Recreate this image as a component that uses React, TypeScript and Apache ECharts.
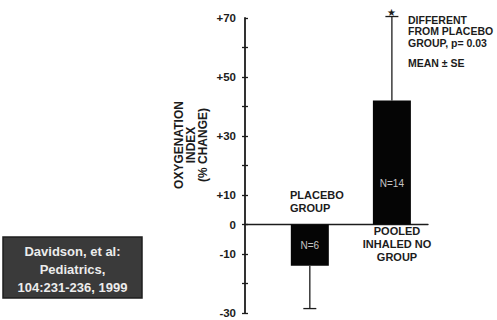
import React, { useEffect, useRef } from "react";
import * as echarts from "echarts";

const groups = ["PLACEBO\nGROUP", "POOLED\nINHALED NO\nGROUP"];
const sampleSizes = [6, 14];
const meanChange = [-14, 42];
const seChange = [14.5, 28.5];
const significant = [false, true];
const yTickLabels = [70, 50, 30, 10, 0, -10, -30];
const yMin = -30;
const yMax = 70;
const yStep = 10;

const FONT = "'Liberation Sans', Arial, Helvetica, sans-serif";
const INK = "#1c1c1c";

export default function App() {
  const ref = useRef<HTMLDivElement>(null);
  useEffect(() => {
    if (!ref.current) return;
    const chart = echarts.init(ref.current, undefined, { renderer: "svg" });
    const allTicks: number[] = [];
    for (let v = yMin; v <= yMax; v += yStep) allTicks.push(v);
    const outerTicks = allTicks.filter((v) => v < yMax);

    const barData = meanChange.map((m, i) => ({
      value: [i, m],
      label: {
        show: true,
        formatter: "N=" + sampleSizes[i],
        position: m < 0 ? "inside" : "insideBottom",
        distance: m < 0 ? 0 : 36,
        color: "#c4c4c4",
        fontSize: 10,
        fontFamily: FONT,
      },
    }));
    const errData = meanChange.map((m, i) => [i, m, m + Math.sign(m) * seChange[i], significant[i] ? 1 : 0]);

    chart.setOption({
      animation: false,
      backgroundColor: "#ffffff",
      grid: { left: 245, top: 18, width: 183, height: 295 },
      xAxis: {
        type: "value",
        min: -0.79,
        max: 1.44,
        axisLine: { show: true, onZero: true, onZeroAxisIndex: 0, lineStyle: { color: INK, width: 1.3 } },
        axisTick: { show: false },
        axisLabel: { show: false },
        splitLine: { show: false },
      },
      yAxis: [
        {
          type: "value",
          min: yMin,
          max: yMax,
          interval: yStep,
          position: "left",
          axisLine: { show: true, onZero: false, lineStyle: { color: INK, width: 1.8 } },
          axisTick: { show: true, length: 3, customValues: outerTicks, lineStyle: { color: INK, width: 1.3 } },
          axisLabel: {
            show: true,
            customValues: yTickLabels,
            formatter: (v: number) => (v > 0 ? "+" + v : String(v)),
            margin: 9,
            color: INK,
            fontSize: 11.5,
            fontWeight: "bold",
            fontFamily: FONT,
          },
          splitLine: { show: false },
        },
        {
          type: "value",
          min: yMin,
          max: yMax,
          interval: yStep,
          position: "left",
          axisLine: { show: false, onZero: false },
          axisTick: { show: true, inside: true, length: 3, lineStyle: { color: INK, width: 1.3 } },
          axisLabel: { show: false },
          splitLine: { show: false },
        },
      ],
      series: [
        {
          type: "bar",
          data: barData,
          barWidth: 38,
          itemStyle: { color: "#050505" },
        },
        {
          type: "custom",
          data: errData,
          renderItem: (params: any, api: any) => {
            const x = api.value(0);
            const p0 = api.coord([x, api.value(1)]);
            const p1 = api.coord([x, api.value(2)]);
            const children: any[] = [
              { type: "line", shape: { x1: p0[0], y1: p0[1], x2: p1[0], y2: p1[1] }, style: { stroke: INK, lineWidth: 1.3 } },
              { type: "line", shape: { x1: p1[0] - 6.5, y1: p1[1], x2: p1[0] + 6.5, y2: p1[1] }, style: { stroke: INK, lineWidth: 1.3 } },
            ];
            if (api.value(3) === 1) {
              children.push({
                type: "text",
                x: p1[0],
                y: p1[1] - 4.5,
                style: { text: "★", fontSize: 10, fill: INK, align: "center", verticalAlign: "middle" },
              });
            }
            return { type: "group", children };
          },
          z: 5,
        },
      ],
      graphic: [
        {
          type: "text",
          x: 191,
          y: 145,
          rotation: Math.PI / 2,
          style: {
            text: "OXYGENATION\nINDEX\n(% CHANGE)",
            fontSize: 12,
            fontWeight: "bold",
            fontFamily: FONT,
            fill: INK,
            align: "center",
            verticalAlign: "middle",
            lineHeight: 12,
          },
        },
        {
          type: "text",
          x: 290,
          y: 188.5,
          style: { text: groups[0], fontSize: 11, fontWeight: "bold", fontFamily: FONT, fill: INK, align: "left", verticalAlign: "top", lineHeight: 13 },
        },
        {
          type: "text",
          x: 397,
          y: 224.5,
          style: { text: groups[1], fontSize: 11, fontWeight: "bold", fontFamily: FONT, fill: INK, align: "center", verticalAlign: "top", lineHeight: 12.8 },
        },
        {
          type: "text",
          x: 408,
          y: 14.5,
          style: { text: "DIFFERENT\nFROM PLACEBO\nGROUP, p= 0.03", fontSize: 10.5, fontWeight: "bold", fontFamily: FONT, fill: INK, align: "left", verticalAlign: "top", lineHeight: 11.2 },
        },
        {
          type: "text",
          x: 408,
          y: 57,
          style: { text: "MEAN ± SE", fontSize: 10.5, fontWeight: "bold", fontFamily: FONT, fill: INK, align: "left", verticalAlign: "top", lineHeight: 11.2 },
        },
        {
          type: "rect",
          shape: { x: 3, y: 237, width: 139, height: 61 },
          style: { fill: "#3a3a3a", stroke: "#1e1e1e", lineWidth: 1.5 },
        },
        {
          type: "text",
          x: 72.5,
          y: 242,
          style: {
            text: "Davidson, et al:\nPediatrics,\n104:231-236, 1999",
            fontSize: 13,
            fontWeight: "bold",
            fontFamily: FONT,
            fill: "#ececec",
            align: "center",
            verticalAlign: "top",
            lineHeight: 18,
          },
        },
      ],
    });
    return () => chart.dispose();
  }, []);
  return <div ref={ref} style={{ position: "absolute", left: 0, top: 0, width: 497, height: 320 }} />;
}
